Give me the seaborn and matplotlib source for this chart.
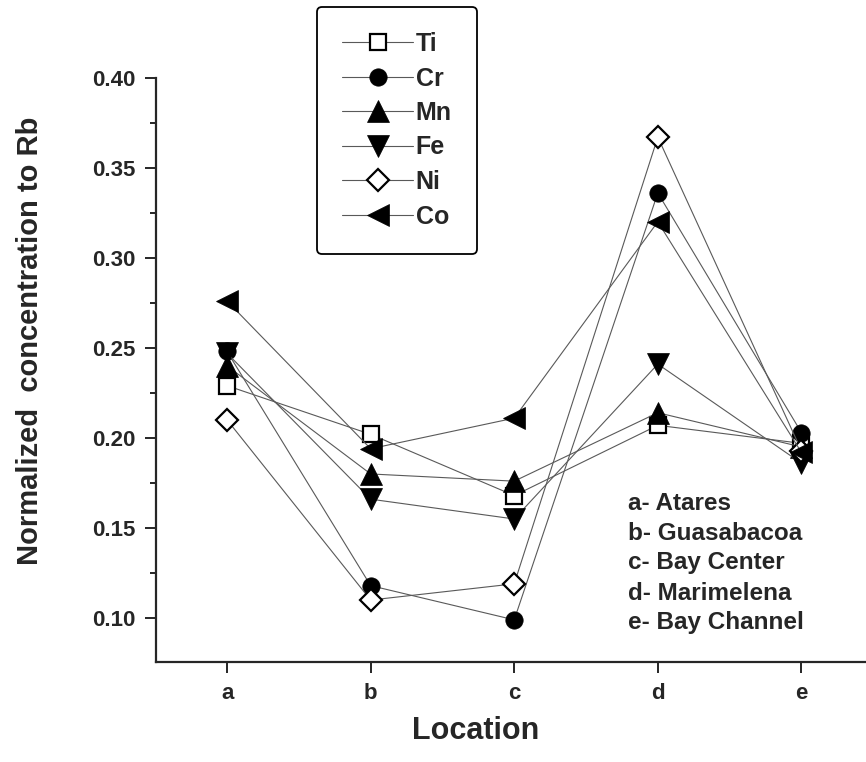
import matplotlib
matplotlib.use("Agg")
import matplotlib.pyplot as plt
from matplotlib.ticker import MultipleLocator, AutoMinorLocator
import pandas as pd
import seaborn as sns

locations = ["a", "b", "c", "d", "e"]
site_names = ["a- Atares", "b- Guasabacoa", "c- Bay Center", "d- Marimelena", "e- Bay Channel"]

ti = [0.229, 0.202, 0.168, 0.207, 0.197]
cr = [0.248, 0.118, 0.099, 0.336, 0.203]
mn = [0.240, 0.180, 0.176, 0.214, 0.195]
fe = [0.247, 0.166, 0.155, 0.241, 0.186]
ni = [0.210, 0.110, 0.119, 0.367, 0.193]
co = [0.276, 0.194, 0.211, 0.320, 0.192]

elements = ["Ti", "Cr", "Mn", "Fe", "Ni", "Co"]
values = [ti, cr, mn, fe, ni, co]

# marker, marker size, open (white face) or filled
STYLE = {
    "Ti": ("s", 11.5, True),
    "Cr": ("o", 12.5, False),
    "Mn": ("^", 16, False),
    "Fe": ("v", 16, False),
    "Ni": ("D", 11.5, True),
    "Co": ("<", 16, False),
}

rows = []
for el, vals in zip(elements, values):
    for loc, v in zip(locations, vals):
        rows.append({"element": el, "location": loc, "value": v})
df = pd.DataFrame(rows)

sns.set_style("ticks")
plt.rcParams["font.family"] = ["Liberation Sans", "DejaVu Sans"]
plt.rcParams["font.weight"] = "bold"

fig = plt.figure(figsize=(8.66, 7.62), dpi=100)
ax = fig.add_axes([156 / 866, 1 - 662 / 762, 1 - 156 / 866, (662 - 77.7) / 762])

handles = []
for el in elements:
    marker, ms, hollow = STYLE[el]
    sub = df[df["element"] == el]
    sns.lineplot(data=sub, x="location", y="value", ax=ax, color="0.35", lw=0.8,
                 marker=marker, markersize=ms,
                 markerfacecolor="white" if hollow else "black",
                 markeredgecolor="black", markeredgewidth=1.6 if hollow else 0.5,
                 legend=False)
    handles.append(ax.lines[-1])

ax.set_xlim(-0.495, 4.45)
ax.set_ylim(0.0756, 0.40)
ax.yaxis.set_major_locator(MultipleLocator(0.05))
ax.yaxis.set_minor_locator(AutoMinorLocator(2))
ax.yaxis.set_major_formatter(plt.FormatStrFormatter("%.2f"))

sns.despine(ax=ax)
for s in ("left", "bottom"):
    ax.spines[s].set_linewidth(1.6)
ax.tick_params(axis="both", which="major", length=8, width=1.4, labelsize=16, pad=7)
ax.tick_params(axis="y", which="minor", length=4.5, width=1.4)
for lbl in ax.get_xticklabels() + ax.get_yticklabels():
    lbl.set_fontweight("bold")

ax.set_xlabel("Location", fontsize=22, fontweight="bold")
ax.xaxis.set_label_coords(0.45, -0.093)
ax.set_ylabel("Normalized  concentration to Rb", fontsize=21, fontweight="bold")
ax.yaxis.set_label_coords(-0.158, 0.55)

leg = ax.legend(handles, elements, loc="upper left",
                bbox_to_anchor=(317 / 866, 1 - 7 / 762), bbox_transform=fig.transFigure,
                prop={"size": 18, "weight": "bold"}, frameon=True, fancybox=True,
                handlelength=2.85, handletextpad=0.1, labelspacing=0.42,
                borderpad=1.0, borderaxespad=0)
leg.get_frame().set_edgecolor("black")
leg.get_frame().set_linewidth(1.3)
leg.get_frame().set_alpha(1)
for h in leg.legend_handles:
    h.set_color("0.35")

for i, name in enumerate(site_names):
    fig.text(628 / 866, 1 - (503 + 30 * i) / 762, name, fontsize=17.5, fontweight="bold",
             ha="left", va="center")

fig.savefig("out.png", dpi=100)
